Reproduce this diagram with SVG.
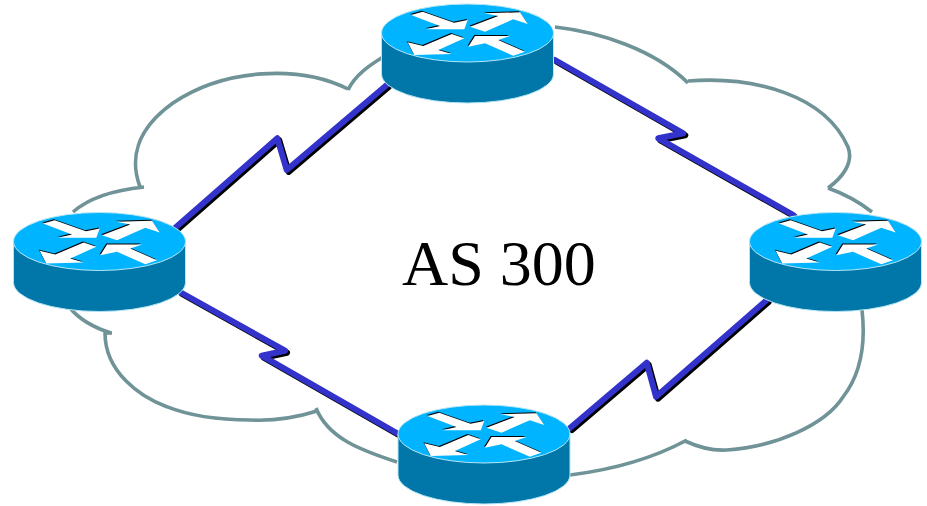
<svg xmlns="http://www.w3.org/2000/svg" xmlns:xlink="http://www.w3.org/1999/xlink" width="927" height="506" viewBox="0 0 927 506">
<style>
.cloud{fill:none;stroke:#6f9397;stroke-width:3.6}
.lk{fill:none;stroke-width:6;stroke-linejoin:round;stroke-linecap:round}
.sh{stroke:#000}
.bl{stroke:#3333cc}
.top{fill:#00b4ff;stroke:#b5e6f5;stroke-width:1}
.side{fill:#0077a8;stroke:#b5e6f5;stroke-width:1}
.ar{fill:#fff}
.ars{fill:#000}
.lbl{font-family:"Liberation Serif","Times New Roman",serif;font-size:64px;fill:#000}
</style>
<defs>
<g id="arrows">
<polygon points="-56.5,-18 -44.8,-21.3 -13.5,-10.3 0.2,-13 -3.2,-3.7 -41.5,-3.7 -27.5,-7"/>
<polygon points="2.5,-6.3 30.8,-17 16.8,-19.7 52.5,-20.7 60.2,-9 45.8,-13.7 17.5,-1.3"/>
<polygon points="-59.8,9.3 -44.2,13 -15.8,1 -3.2,5.3 -29.2,17 -15.8,21 -53.2,22"/>
<polygon points="0.8,13.7 7.5,3 42.5,3 30.8,7 57.5,18.7 45.8,22.7 17.5,10.3"/>
</g>
<g id="router">
<path class="side" d="M-86,0 V41 A86,29 0 0 0 86,41 V0 Z"/>
<ellipse class="top" cx="0" cy="0" rx="86" ry="29"/>
<use xlink:href="#arrows" href="#arrows" class="ars" transform="translate(-0.8,-1)"/>
<use xlink:href="#arrows" href="#arrows" class="ar"/>
</g>
</defs>
<rect width="927" height="506" fill="#fff"/>
<path id="cloud" class="cloud" d="M555,27 C600,32 655,50 688,83 M688,81 C755,76 825,95 848,147 C854,163 842,178 828,188 M828,188 C842,193 858,201 872,212 M862,310 C866,345 860,375 843,397 C825,425 775,447 727,450 C712,451 698,447 685,441 M687,440 C650,460 610,470 570,475 M397,462 C360,450 328,438 316,408 M317,411 C295,418 272,421 250,420 C220,420 190,416 166.7,406.7 C140,397 105,372 105,333 L112,333 M111,333 C95,328 80,320 70,308 M73,212 C90,197 115,190 144,187 M140,187 C130,160 135,130 173,103 C225,68 300,65 348,89 M348,90 C355,75 370,65 383,57"/>
<g id="connectors">
<g transform="translate(2,2)" class="lk sh">
<polyline points="175,228 277.3,138.3 286.7,170 386.7,85"/>
<polyline points="180,292 285,350.7 261.7,355.7 396.7,433"/>
<polyline points="555,60 683.3,133.3 658.3,138.3 793.3,215"/>
<polyline points="570,428 646.7,362.7 656,396.7 766.7,300"/>
</g>
<g class="lk bl">
<polyline points="175,228 277.3,138.3 286.7,170 386.7,85"/>
<polyline points="180,292 285,350.7 261.7,355.7 396.7,433"/>
<polyline points="555,60 683.3,133.3 658.3,138.3 793.3,215"/>
<polyline points="570,428 646.7,362.7 656,396.7 766.7,300"/>
</g>
</g>
<g id="router-top"><use xlink:href="#router" href="#router" transform="translate(467.5,33)"/></g>
<g id="router-left"><use xlink:href="#router" href="#router" transform="translate(99.5,241.5)"/></g>
<g id="router-right"><use xlink:href="#router" href="#router" transform="translate(835.5,241.5)"/></g>
<g id="router-bottom"><use xlink:href="#router" href="#router" transform="translate(484,434)"/></g>
<g id="label"><text class="lbl" x="402" y="285">AS 300</text></g>
</svg>
